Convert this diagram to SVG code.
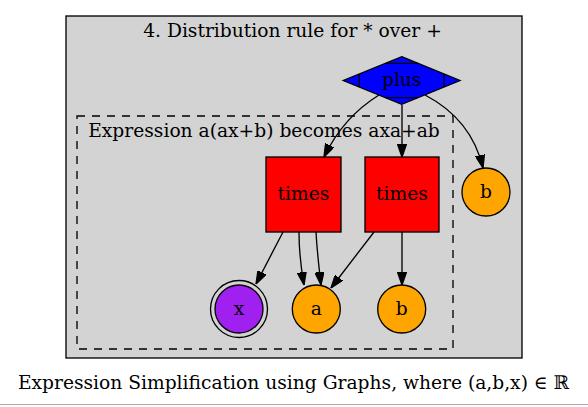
<svg xmlns="http://www.w3.org/2000/svg" width="588" height="407" viewBox="0 0 588 407">
<defs>
<marker id="ah" viewBox="0 0 10 7" refX="10" refY="3.5" markerWidth="13" markerHeight="9.3" markerUnits="userSpaceOnUse" orient="auto">
<path d="M0,0 L10,3.5 L0,7 Z" fill="#000" stroke="#000" stroke-width="1"/>
</marker>
</defs>
<style>
text{font-family:"DejaVu Serif",serif;font-size:18.67px;fill:#000;text-anchor:middle}
.edge{fill:none;stroke:#000;stroke-width:1.33;marker-end:url(#ah)}
.nd{stroke:#000;stroke-width:1.33}
</style>
<rect x="0" y="0" width="588" height="407" fill="#fff"/>
<g id="cluster_outer">
<rect x="66" y="16" width="456" height="342" fill="#d3d3d3" stroke="#000" stroke-width="1.33"/>
<text x="292.5" y="37">4. Distribution rule for * over +</text>
</g>
<g id="cluster_inner">
<rect x="77" y="116" width="376" height="233" fill="none" stroke="#000" stroke-width="1.33" stroke-dasharray="8,7"/>
<text x="264" y="136.5">Expression a(ax+b) becomes axa+ab</text>
</g>
<g id="edges">
<path class="edge" d="M379,95 C358,108 338,128 324,157"/>
<path class="edge" d="M402,105 L402,157"/>
<path class="edge" d="M425,95 C450,108 474,130 483,168"/>
<path class="edge" d="M283,232 L256,284"/>
<path class="edge" d="M299,232 C299,250 301,268 304,285"/>
<path class="edge" d="M316,232 C317,250 319,268 321,285"/>
<path class="edge" d="M374,232 L331,288"/>
<path class="edge" d="M402,232 L402,285"/>
</g>
<g id="plus">
<polygon class="nd" points="401.7,56.7 460,80.5 401.7,104.3 343.3,80.5" fill="#0000ff"/>
<path d="M359.3,74 L359.3,87 M444.1,74 L444.1,87 M385.5,63.3 L418,63.3 M385.5,97.7 L418,97.7" stroke="#000" stroke-width="1.33" fill="none"/>
<text x="401.7" y="86">plus</text>
</g>
<g id="times1">
<rect class="nd" x="266" y="157" width="75" height="75" fill="#ff0000"/>
<text x="303.5" y="200">times</text>
</g>
<g id="times2">
<rect class="nd" x="365" y="157" width="74" height="75" fill="#ff0000"/>
<text x="402" y="200">times</text>
</g>
<g id="b_right">
<circle class="nd" cx="486" cy="192" r="24" fill="#ffa500"/>
<text x="486" y="197.5">b</text>
</g>
<g id="x">
<circle cx="239" cy="309" r="28.5" fill="none" stroke="#000" stroke-width="1.33"/>
<circle class="nd" cx="239" cy="309" r="24" fill="#a020f0"/>
<text x="239" y="314.5">x</text>
</g>
<g id="a">
<circle class="nd" cx="316.3" cy="309" r="24" fill="#ffa500"/>
<text x="316.3" y="314.5">a</text>
</g>
<g id="b_inner">
<circle class="nd" cx="401.7" cy="309" r="24" fill="#ffa500"/>
<text x="401.7" y="314.5">b</text>
</g>
<text x="293.5" y="388.5">Expression Simplification using Graphs, where (a,b,x) ∈ ℝ</text>
<line x1="0" y1="404.5" x2="588" y2="404.5" stroke="#aaaaaa" stroke-width="1"/>
</svg>
